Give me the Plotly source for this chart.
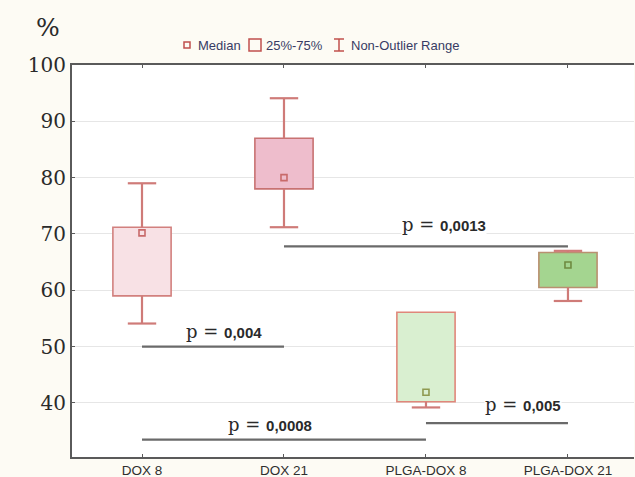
import plotly.graph_objects as go

categories = ["DOX 8", "DOX 21", "PLGA-DOX 8", "PLGA-DOX 21"]
q1 = [59.0, 78.0, 40.2, 60.5]
q3 = [71.2, 87.0, 56.1, 66.7]
medians = [70.2, 80.0, 41.9, 64.5]
lower = [54.1, 71.2, 39.2, 58.1]
upper = [79.0, 94.1, 56.1, 67.0]
fills = ["#f8e1e5", "#eebdcc", "#d9efd0", "#a4d590"]
borders = ["#d2807e", "#c87272", "#e0877a", "#b99070"]
median_colors = ["#c86a6a", "#c86a6a", "#8f9a50", "#6f8a40"]
whisker_color = "#cf7b78"

# significance brackets
comp_from = [0, 0, 1, 2]
comp_to = [1, 2, 3, 3]
comp_level = [50.0, 33.5, 67.8, 36.4]
comp_p = ["0,004", "0,0008", "0,0013", "0,005"]
label_x = [0.58, 0.90, 2.13, 2.68]
label_y = [52.6, 36.1, 71.6, 39.8]

legend_labels = ["Median", "25%-75%", "Non-Outlier Range"]

W, H = 635, 477
ML, MR, MT, MB = 72, 1, 65, 20
PW, PH = W - ML - MR, H - MT - MB


def px(x):
    return (x - ML) / PW


def py(y):
    return (H - MB - y) / PH


xs = list(range(len(categories)))
box_w = 0.41
cap_w = 0.1

fig = go.Figure()

fig.add_trace(go.Bar(
    x=xs, y=[b - a for a, b in zip(q1, q3)], base=q1, width=box_w,
    marker=dict(color=fills, line=dict(color=borders, width=1.6)),
    showlegend=False, hoverinfo="skip"))

wx, wy = [], []
for i in xs:
    if upper[i] > q3[i]:
        wx += [i, i, None, i - cap_w, i + cap_w, None]
        wy += [q3[i], upper[i], None, upper[i], upper[i], None]
    if lower[i] < q1[i]:
        wx += [i, i, None, i - cap_w, i + cap_w, None]
        wy += [q1[i], lower[i], None, lower[i], lower[i], None]
fig.add_trace(go.Scatter(x=wx, y=wy, mode="lines",
                         line=dict(color=whisker_color, width=2.2),
                         showlegend=False, hoverinfo="skip"))

fig.add_trace(go.Scatter(x=xs, y=medians, mode="markers",
                         marker=dict(symbol="square-open", size=6,
                                     color=median_colors, line=dict(width=1.6)),
                         showlegend=False))

for a, b, lv in zip(comp_from, comp_to, comp_level):
    fig.add_trace(go.Scatter(x=[a, b], y=[lv, lv], mode="lines",
                             line=dict(color="#6a6a6a", width=2.2),
                             showlegend=False, hoverinfo="skip"))

for tx, ty, p in zip(label_x, label_y, comp_p):
    fig.add_annotation(
        x=tx, y=ty, xref="x", yref="y", showarrow=False,
        text=("p = <span style='font-family:Liberation Sans, Arial;font-size:15px;"
              "font-weight:bold'>" + p + "</span>"),
        font=dict(family="DejaVu Serif", size=18, color="#2a2a2a"),
        bgcolor="white", borderpad=0)

# % label
fig.add_annotation(x=px(62), y=py(27), xref="paper", yref="paper", text="%",
                   xanchor="right", yanchor="middle", showarrow=False,
                   font=dict(family="DejaVu Serif", size=25, color="#2a2a2a"))

# custom legend
leg_y = 45
leg_text_x = [196, 264, 349]
for lx, lab in zip(leg_text_x, legend_labels):
    fig.add_annotation(x=px(lx), y=py(leg_y), xref="paper", yref="paper", text=lab,
                       xanchor="left", yanchor="middle", showarrow=False,
                       font=dict(family="Liberation Sans, Arial", size=13, color="#383b64"))
leg_col = "#c0504d"
fig.add_shape(type="rect", xref="paper", yref="paper", x0=px(184), x1=px(190),
              y0=py(48), y1=py(42), line=dict(color=leg_col, width=1.5))
fig.add_shape(type="rect", xref="paper", yref="paper", x0=px(249), x1=px(261),
              y0=py(51), y1=py(39), line=dict(color=leg_col, width=1.5))
fig.add_shape(type="line", xref="paper", yref="paper", x0=px(339), x1=px(339),
              y0=py(51), y1=py(39), line=dict(color=leg_col, width=1.5))
fig.add_shape(type="line", xref="paper", yref="paper", x0=px(334), x1=px(344),
              y0=py(39), y1=py(39), line=dict(color=leg_col, width=1.5))
fig.add_shape(type="line", xref="paper", yref="paper", x0=px(334), x1=px(344),
              y0=py(51), y1=py(51), line=dict(color=leg_col, width=1.5))

fig.update_layout(
    width=W, height=H,
    margin=dict(l=ML, r=MR, t=MT, b=MB, autoexpand=False),
    paper_bgcolor="#fdfbf4", plot_bgcolor="white",
    showlegend=False,
    xaxis=dict(range=[-0.493, 3.465], tickvals=xs, ticktext=categories,
               automargin=False,
               showgrid=False, zeroline=False, showline=True, mirror="ticks",
               linecolor="#5a5a5a", linewidth=2, ticks="inside", ticklen=3,
               tickcolor="#5a5a5a",
               tickfont=dict(family="Liberation Sans, Arial", size=13.5, color="#2e2e2e")),
    yaxis=dict(range=[30.4, 100], tickvals=[40, 50, 60, 70, 80, 90, 100],
               automargin=False,
               showgrid=True, gridcolor="#e6e6e6", gridwidth=1, zeroline=False,
               showline=True, linecolor="#5a5a5a", linewidth=2,
               ticks="inside", ticklen=3, tickcolor="#5a5a5a",
               tickfont=dict(family="DejaVu Serif", size=20, color="#2a2a2a")),
)

fig.write_html("out.html", post_script="document.body.style.margin='0';",
               config={"displayModeBar": False})
